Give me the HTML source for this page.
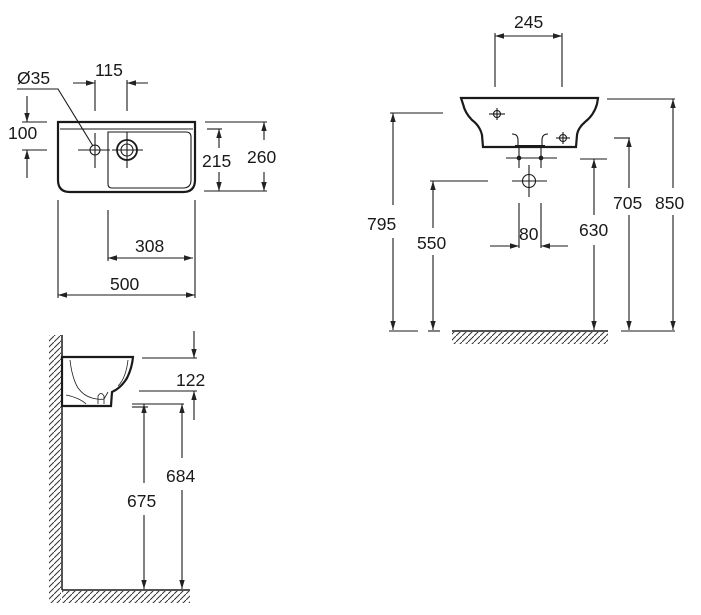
<!DOCTYPE html>
<html><head><meta charset="utf-8"><style>
html,body{margin:0;padding:0;background:#fff}
svg{display:block}
text{font-family:"Liberation Sans",Arial,sans-serif;font-size:17.5px;fill:#1a1a1a}
</style></head><body>
<svg width="701" height="615" viewBox="0 0 701 615" xmlns="http://www.w3.org/2000/svg">
<defs>
<marker id="a" viewBox="0 0 10 10" refX="10" refY="5" markerWidth="9" markerHeight="9" orient="auto-start-reverse" markerUnits="userSpaceOnUse"><path d="M0,2 L10,5 L0,8 Z" fill="#222"/></marker>
<pattern id="h" width="6" height="6" patternUnits="userSpaceOnUse"><path d="M-1,7 L7,-1" stroke="#333" stroke-width="1"/></pattern>
</defs>
<g stroke="#1a1a1a" stroke-width="1.1" fill="none">
<!-- TOP VIEW -->
<path d="M58,122 H195 V180 Q195,192 183,192 H70 Q58,192 58,180 Z" stroke-width="2.2"/>
<line x1="60" y1="129" x2="193" y2="129"/>
<path d="M108,132 H186 Q191,132 191,137 V180 Q191,188 183,188 H112 Q108,188 108,184 Z"/>
<circle cx="95" cy="150" r="5"/>
<circle cx="127" cy="150" r="10" stroke-width="1.8"/>
<circle cx="127" cy="150" r="6"/>
<line x1="78" y1="150" x2="110" y2="150"/><line x1="95" y1="133" x2="95" y2="168"/>
<line x1="112" y1="150" x2="143" y2="150"/><line x1="127" y1="132" x2="127" y2="168"/>
<polyline points="17,89 58,89 93,146"/>
<line x1="95" y1="80" x2="95" y2="111"/><line x1="127" y1="80" x2="127" y2="111"/>
<line x1="73" y1="83" x2="95" y2="83" marker-end="url(#a)"/>
<line x1="148" y1="83" x2="127" y2="83" marker-end="url(#a)"/>
<line x1="22" y1="122" x2="47" y2="122"/><line x1="22" y1="150" x2="47" y2="150"/>
<line x1="27" y1="96" x2="27" y2="122" marker-end="url(#a)"/>
<line x1="27" y1="178" x2="27" y2="150" marker-end="url(#a)"/>
<line x1="207" y1="129" x2="222" y2="129"/><line x1="204" y1="191" x2="267" y2="191"/>
<line x1="205" y1="122" x2="267" y2="122"/>
<line x1="219" y1="148" x2="219" y2="129" marker-end="url(#a)"/>
<line x1="219" y1="172" x2="219" y2="191" marker-end="url(#a)"/>
<line x1="264" y1="140" x2="264" y2="122" marker-end="url(#a)"/>
<line x1="264" y1="172" x2="264" y2="191" marker-end="url(#a)"/>
<line x1="108" y1="210" x2="108" y2="261"/><line x1="195" y1="200" x2="195" y2="298"/>
<line x1="58" y1="200" x2="58" y2="298"/>
<line x1="108" y1="258" x2="193" y2="258" marker-start="url(#a)" marker-end="url(#a)"/>
<line x1="58" y1="295" x2="195" y2="295" marker-start="url(#a)" marker-end="url(#a)"/>
<!-- FRONT VIEW -->
<line x1="495" y1="33" x2="495" y2="87"/><line x1="562" y1="33" x2="562" y2="87"/>
<line x1="495" y1="36" x2="562" y2="36" marker-start="url(#a)" marker-end="url(#a)"/>
<path d="M461,98 H598 L597,104 Q594,115 585,122 Q578,128 577,135 L576,147 H483 L482,135 Q480,126 472,120 Q465,113 463,104 Z" stroke-width="2.2"/>
<line x1="515" y1="146" x2="545" y2="146" stroke-width="2"/>
<path d="M512,134 Q518,134 518,140 V147 M548,134 Q542,134 542,140 V147"/>
<line x1="489" y1="114" x2="505" y2="114"/><line x1="497" y1="108" x2="497" y2="120"/><circle cx="497" cy="114" r="3.5"/>
<line x1="556" y1="138" x2="570" y2="138"/><line x1="563" y1="132" x2="563" y2="144"/><circle cx="563" cy="138" r="3.5"/>
<line x1="519" y1="147" x2="519" y2="168"/><line x1="541" y1="147" x2="541" y2="168"/>
<line x1="506" y1="158" x2="557" y2="158"/>
<circle cx="519" cy="158" r="1.8" fill="#222"/><circle cx="541" cy="158" r="1.8" fill="#222"/>
<circle cx="529" cy="181" r="6.5"/>
<line x1="512" y1="181" x2="547" y2="181"/><line x1="529" y1="165" x2="529" y2="197"/>
<line x1="519" y1="203" x2="519" y2="248"/><line x1="541" y1="203" x2="541" y2="248"/>
<line x1="490" y1="246" x2="519" y2="246" marker-end="url(#a)"/>
<line x1="568" y1="246" x2="541" y2="246" marker-end="url(#a)"/>
<line x1="390" y1="113" x2="443" y2="113"/>
<line x1="393" y1="205" x2="393" y2="113" marker-end="url(#a)"/>
<line x1="393" y1="238" x2="393" y2="330" marker-end="url(#a)"/>
<line x1="389" y1="331" x2="418" y2="331"/>
<line x1="430" y1="181" x2="488" y2="181"/>
<line x1="433" y1="228" x2="433" y2="181" marker-end="url(#a)"/>
<line x1="433" y1="255" x2="433" y2="330" marker-end="url(#a)"/>
<line x1="428" y1="331" x2="440" y2="331"/>
<line x1="580" y1="159" x2="607" y2="159"/>
<line x1="594" y1="215" x2="594" y2="159" marker-end="url(#a)"/>
<line x1="594" y1="245" x2="594" y2="330" marker-end="url(#a)"/>
<line x1="614" y1="138" x2="630" y2="138"/>
<line x1="629" y1="188" x2="629" y2="138" marker-end="url(#a)"/>
<line x1="629" y1="215" x2="629" y2="330" marker-end="url(#a)"/>
<line x1="607" y1="99" x2="675" y2="99"/>
<line x1="673" y1="188" x2="673" y2="99" marker-end="url(#a)"/>
<line x1="673" y1="215" x2="673" y2="330" marker-end="url(#a)"/>
<line x1="621" y1="331" x2="675" y2="331"/>
<line x1="452" y1="331" x2="608" y2="331" stroke-width="1.5"/>
<rect x="452" y="332" width="156" height="12" fill="url(#h)" stroke="none"/>
<!-- SIDE VIEW -->
<line x1="62" y1="335" x2="62" y2="590" stroke-width="1.5"/>
<rect x="49" y="335" width="12" height="268" fill="url(#h)" stroke="none"/>
<line x1="62" y1="590" x2="190" y2="590" stroke-width="1.5"/>
<rect x="62" y="591" width="128" height="12" fill="url(#h)" stroke="none"/>
<path d="M62,357 H133 Q132,368 127,378 Q121,388 112,392 L111,406 H62 Z" stroke-width="2.2"/>
<path d="M70,360 Q72,378 78,388 Q84,396 92,398 Q100,400 104,399 L108,392 M66,395 Q80,398 86,404 M98,404 V396 Q101,391 104,396 V404" stroke-width="0.8"/>
<path d="M128,360 Q126,378 118,386" stroke-width="0.8"/>
<line x1="142" y1="358" x2="197" y2="358"/>
<line x1="139" y1="391" x2="197" y2="391"/>
<line x1="194" y1="331" x2="194" y2="358" marker-end="url(#a)"/>
<line x1="194" y1="420" x2="194" y2="391" marker-end="url(#a)"/>
<line x1="132" y1="404" x2="184" y2="404"/>
<line x1="132" y1="407" x2="148" y2="407"/>
<line x1="144" y1="483" x2="144" y2="404" marker-end="url(#a)"/>
<line x1="144" y1="515" x2="144" y2="589" marker-end="url(#a)"/>
<line x1="182" y1="458" x2="182" y2="404" marker-end="url(#a)"/>
<line x1="182" y1="490" x2="182" y2="589" marker-end="url(#a)"/>
</g>
<g>
<text x="17" y="84">Ø35</text>
<text x="95" y="76">115</text>
<text x="8" y="139">100</text>
<text x="202" y="167">215</text>
<text x="247" y="163">260</text>
<text x="135" y="252">308</text>
<text x="110" y="290">500</text>
<text x="514" y="28">245</text>
<text x="367" y="230">795</text>
<text x="417" y="249">550</text>
<text x="519" y="240">80</text>
<text x="579" y="236">630</text>
<text x="613" y="209">705</text>
<text x="655" y="209">850</text>
<text x="176" y="386">122</text>
<text x="166" y="482">684</text>
<text x="127" y="507">675</text>
</g>
</svg>
</body></html>
